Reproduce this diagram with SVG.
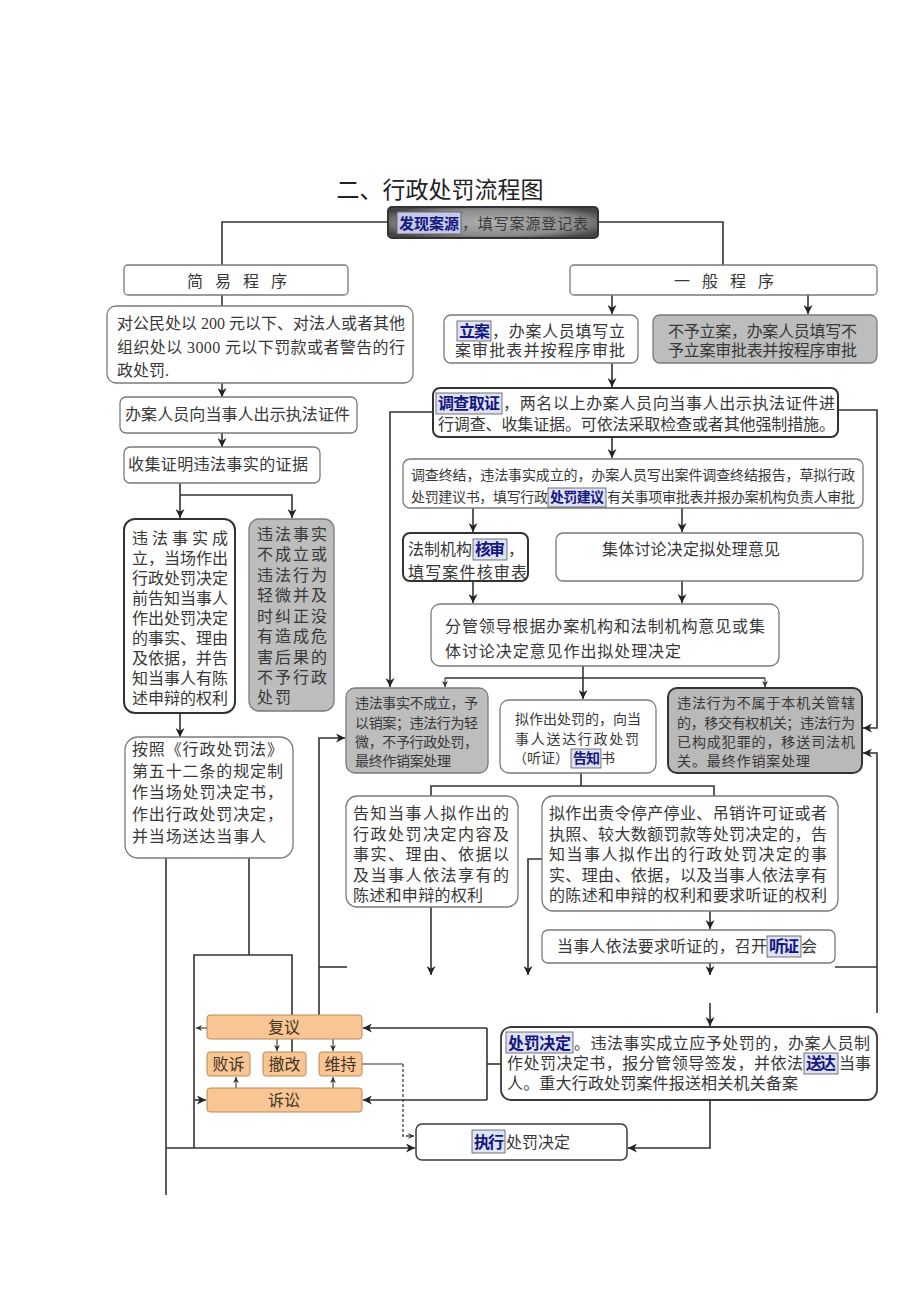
<svg xmlns="http://www.w3.org/2000/svg" width="920" height="1301" viewBox="0 0 920 1301">
<style>
text{font-family:"Liberation Serif","Noto Sans CJK SC",serif;fill:#383838;font-size:16px}
.ttl{font-family:"Noto Sans CJK SC","Noto Sans",sans-serif;font-size:23px;fill:#222;text-anchor:middle}
.sp{letter-spacing:12px}
.s14{font-size:14px}
.hl{font-weight:bold;fill:#15157e}
.hb{fill:#dde2f4;stroke:#555;stroke-width:0.8}
.box{fill:#fff;stroke:#7a7a7a;stroke-width:1.3}
.bd{fill:#fff;stroke:#333;stroke-width:2}
.gray{fill:#bdbdbd;stroke:#7a7a7a;stroke-width:1.3}
.gd{fill:#b9b9b9;stroke:#333;stroke-width:2}
.or{fill:#f8c593;stroke:#b88a5c;stroke-width:1}
.ot{fill:#3d3327;text-anchor:middle}
.ln{stroke:#333;stroke-width:1.6;fill:none}
.lt{stroke:#333;stroke-width:1.1;fill:none}
.dash{stroke:#444;stroke-width:1.3;fill:none;stroke-dasharray:3,2}
</style>
<defs>
<marker id="a" viewBox="0 0 10 10" refX="10" refY="5" markerWidth="9" markerHeight="9" markerUnits="userSpaceOnUse" orient="auto">
<path d="M0,0 L10,5 L0,10 L3,5 z" fill="#222"/>
</marker>
<marker id="s" viewBox="0 0 10 10" refX="10" refY="5" markerWidth="6" markerHeight="6" markerUnits="userSpaceOnUse" orient="auto">
<path d="M0,0 L10,5 L0,10 L3,5 z" fill="#333"/>
</marker>
<radialGradient id="gr" cx="0.5" cy="0.5" r="0.6">
<stop offset="0" stop-color="#b0b0b0"/>
<stop offset="0.7" stop-color="#8a8a8a"/>
<stop offset="1" stop-color="#454545"/>
</radialGradient>
</defs>

<text class="ttl" x="440" y="198">二、行政处罚流程图</text>

<g id="connectors">
<path class="ln" d="M388,222 H222 V265"/>
<path class="ln" d="M598,222 H723 V265"/>
<path class="ln" d="M222,295 V306"/>
<path class="ln" d="M612,295 V314" marker-end="url(#a)"/>
<path class="ln" d="M808,295 V314" marker-end="url(#a)"/>
<path class="ln" d="M222,383 V397" marker-end="url(#a)"/>
<path class="ln" d="M222,433 V447" marker-end="url(#a)"/>
<path class="ln" d="M180,483 V518" marker-end="url(#a)"/>
<path class="ln" d="M180,495 H292 V518" marker-end="url(#a)"/>
<path class="ln" d="M180,713 V737" marker-end="url(#a)"/>
<path class="ln" d="M612,363 V387" marker-end="url(#a)"/>
<path class="ln" d="M433,412 H390 V687" marker-end="url(#a)"/>
<path class="ln" d="M838,410 H877 V728 H863" marker-end="url(#a)"/>
<path class="ln" d="M612,437 V458" marker-end="url(#a)"/>
<path class="ln" d="M473,508 V532" marker-end="url(#a)"/>
<path class="ln" d="M682,508 V532" marker-end="url(#a)"/>
<path class="ln" d="M473,581 V603" marker-end="url(#a)"/>
<path class="ln" d="M682,581 V603" marker-end="url(#a)"/>
<path class="ln" d="M583,666 V699" marker-end="url(#a)"/>
<path class="ln" d="M445,678 H765"/>
<path class="lt" d="M445,678 V687" marker-end="url(#s)"/>
<path class="lt" d="M765,678 V687" marker-end="url(#s)"/>
<path class="ln" d="M319,1015 V738 H345" marker-end="url(#a)"/>
<path class="ln" d="M319,967 H347"/>
<path class="ln" d="M581,773 V786"/>
<path class="ln" d="M431,796 V786 H714 V796"/>
<path class="ln" d="M710,911 V929" marker-end="url(#a)"/>
<path class="ln" d="M542,859 H528 V975" marker-end="url(#a)"/>
<path class="ln" d="M431,907 V975" marker-end="url(#a)"/>
<path class="ln" d="M710,963 V975" marker-end="url(#a)"/>
<path class="ln" d="M710,1003 V1026" marker-end="url(#a)"/>
<path class="ln" d="M835,967 H877"/>
<path class="ln" d="M877,1013 V753 H863" marker-end="url(#a)"/>
<path class="ln" d="M501,1064 H487"/>
<path class="ln" d="M487,1028 V1100"/>
<path class="ln" d="M487,1028 H363" marker-end="url(#a)"/>
<path class="ln" d="M487,1100 H363" marker-end="url(#a)"/>
<path class="ln" d="M710,1100 V1148 H628" marker-end="url(#a)"/>
<path class="ln" d="M249,858 V955"/>
<path class="ln" d="M194,1148 V955 H292 V1066" marker-end="url(#a)"/>
<path class="ln" d="M166,858 V1195"/>
<path class="ln" d="M166,1148 H415" marker-end="url(#a)"/>
<path class="lt" d="M207,1028 H196" marker-end="url(#s)"/>
<path class="ln" d="M194,1100 H206" marker-end="url(#a)"/>
<path class="lt" d="M277,1039 V1051" marker-end="url(#s)"/>
<path class="lt" d="M333,1039 V1051" marker-end="url(#s)"/>
<path class="lt" d="M236,1088 V1077" marker-end="url(#s)"/>
<path class="lt" d="M333,1088 V1077" marker-end="url(#s)"/>
<path class="lt" d="M362,1064 H403"/>
<path class="dash" d="M403,1064 V1136 H414" marker-end="url(#s)"/>
</g>

<g id="n-source">
<rect x="388" y="207" width="210" height="31" rx="4" fill="url(#gr)" stroke="#333" stroke-width="2"/>
<rect class="hb" x="397" y="212" width="64" height="22" style="fill:#c3c9e6"/>
<text class="hl" x="399" y="229" style="font-size:15px" textLength="60">发现案源</text>
<text x="462" y="229" style="font-size:15px;fill:#3a3a3a" textLength="126">，填写案源登记表</text>
</g>

<g id="n-simple">
<rect class="box" x="124" y="265" width="224" height="30" rx="4"/>
<text class="sp" x="187" y="287">简易程序</text>
</g>
<g id="n-general">
<rect class="box" x="570" y="265" width="307" height="30" rx="4"/>
<text class="sp" x="674" y="287">一般程序</text>
</g>

<g id="n-s1">
<rect class="box" x="107" y="306" width="306" height="77" rx="9"/>
<text x="117" y="329" textLength="288">对公民处以 200 元以下、对法人或者其他</text>
<text x="117" y="353" textLength="288">组织处以 3000 元以下罚款或者警告的行</text>
<text x="117" y="376">政处罚.</text>
</g>
<g id="n-s2">
<rect class="box" x="120" y="397" width="237" height="36" rx="6"/>
<text x="125" y="420" textLength="225">办案人员向当事人出示执法证件</text>
</g>
<g id="n-s3">
<rect class="box" x="124" y="447" width="196" height="36" rx="6"/>
<text x="128" y="470" textLength="180">收集证明违法事实的证据</text>
</g>
<g id="n-s4">
<rect class="bd" x="124" y="519" width="111" height="194" rx="11"/>
<text x="132" y="544" textLength="96">违法事实成</text>
<text x="132" y="564" textLength="96">立，当场作出</text>
<text x="132" y="584" textLength="96">行政处罚决定</text>
<text x="132" y="604" textLength="96">前告知当事人</text>
<text x="132" y="624" textLength="96">作出处罚决定</text>
<text x="132" y="644" textLength="96">的事实、理由</text>
<text x="132" y="664" textLength="96">及依据，并告</text>
<text x="132" y="684" textLength="96">知当事人有陈</text>
<text x="132" y="704" textLength="96">述申辩的权利</text>
</g>
<g id="n-s5">
<rect class="gray" x="249" y="519" width="85" height="192" rx="10"/>
<text x="257" y="540" textLength="70">违法事实</text>
<text x="257" y="560" textLength="70">不成立或</text>
<text x="257" y="581" textLength="70">违法行为</text>
<text x="257" y="601" textLength="70">轻微并及</text>
<text x="257" y="622" textLength="70">时纠正没</text>
<text x="257" y="642" textLength="70">有造成危</text>
<text x="257" y="663" textLength="70">害后果的</text>
<text x="257" y="683" textLength="70">不予行政</text>
<text x="257" y="703" textLength="34">处罚</text>
</g>
<g id="n-s6">
<rect class="box" x="125" y="737" width="168" height="121" rx="13"/>
<text x="132" y="755" textLength="151">按照《行政处罚法》</text>
<text x="132" y="777" textLength="151">第五十二条的规定制</text>
<text x="132" y="798" textLength="151">作当场处罚决定书，</text>
<text x="132" y="820" textLength="151">作出行政处罚决定，</text>
<text x="132" y="842" textLength="134">并当场送达当事人</text>
</g>

<g id="n-g1">
<rect class="box" x="444" y="315" width="194" height="48" rx="7"/>
<rect class="hb" x="457" y="321" width="34" height="20"/>
<text class="hl" x="459" y="337" textLength="31">立案</text>
<text x="492" y="337" textLength="133">，办案人员填写立</text>
<text x="455" y="356" textLength="170">案审批表并按程序审批</text>
</g>
<g id="n-g2">
<rect class="gray" x="653" y="315" width="224" height="48" rx="7"/>
<text x="668" y="337" textLength="189">不予立案，办案人员填写不</text>
<text x="668" y="356" textLength="189">予立案审批表并按程序审批</text>
</g>
<g id="n-g3">
<rect class="bd" x="433" y="388" width="405" height="49" rx="7"/>
<rect class="hb" x="436" y="393" width="66" height="21"/>
<text class="hl" x="438" y="409" textLength="62">调查取证</text>
<text x="503" y="409" textLength="332">，两名以上办案人员向当事人出示执法证件进</text>
<text x="438" y="430" textLength="397">行调查、收集证据。可依法采取检查或者其他强制措施。</text>
</g>
<g id="n-g4">
<rect class="box" x="403" y="459" width="460" height="49" rx="7"/>
<text class="s14" x="411" y="480" textLength="444">调查终结，违法事实成立的，办案人员写出案件调查终结报告，草拟行政</text>
<text class="s14" x="411" y="502" textLength="137">处罚建议书，填写行政</text>
<rect class="hb" x="548" y="488" width="58" height="19"/>
<text class="s14 hl" x="550" y="502" textLength="54">处罚建议</text>
<text class="s14" x="607" y="502" textLength="248">有关事项审批表并报办案机构负责人审批</text>
</g>
<g id="n-g5">
<rect class="bd" x="403" y="533" width="125" height="48" rx="7"/>
<text x="408" y="555" textLength="64">法制机构</text>
<rect class="hb" x="473" y="539" width="34" height="21"/>
<text class="hl" x="475" y="555" textLength="30">核审</text>
<text x="508" y="555">，</text>
<text x="408" y="578" textLength="119">填写案件核审表</text>
</g>
<g id="n-g6">
<rect class="box" x="556" y="533" width="307" height="48" rx="7"/>
<text x="602" y="555" textLength="178">集体讨论决定拟处理意见</text>
</g>
<g id="n-g7">
<rect class="box" x="431" y="604" width="348" height="62" rx="9"/>
<text x="445" y="632" textLength="320">分管领导根据办案机构和法制机构意见或集</text>
<text x="445" y="657" textLength="236">体讨论决定意见作出拟处理决定</text>
</g>
<g id="n-g8">
<rect class="gray" x="346" y="688" width="142" height="85" rx="9"/>
<text class="s14" x="355" y="708" textLength="123">违法事实不成立，予</text>
<text class="s14" x="355" y="728" textLength="123">以销案；违法行为轻</text>
<text class="s14" x="355" y="747" textLength="123">微，不予行政处罚，</text>
<text class="s14" x="355" y="766" textLength="96">最终作销案处理</text>
</g>
<g id="n-g9">
<rect class="box" x="500" y="700" width="156" height="73" rx="9"/>
<text class="s14" x="515" y="724" textLength="126">拟作出处罚的，向当</text>
<text class="s14" x="515" y="744" textLength="124">事人送达行政处罚</text>
<text class="s14" x="513" y="763" textLength="56">（听证）</text>
<rect class="hb" x="571" y="749" width="30" height="19"/>
<text class="s14 hl" x="573" y="763" textLength="27">告知</text>
<text class="s14" x="601" y="763">书</text>
</g>
<g id="n-g10">
<rect class="gd" x="668" y="688" width="194" height="85" rx="9"/>
<text class="s14" x="677" y="708" textLength="178">违法行为不属于本机关管辖</text>
<text class="s14" x="677" y="728" textLength="178">的，移交有权机关；违法行为</text>
<text class="s14" x="677" y="747" textLength="178">已构成犯罪的，移送司法机</text>
<text class="s14" x="677" y="766" textLength="133">关。最终作销案处理</text>
</g>
<g id="n-g11">
<rect class="box" x="346" y="796" width="172" height="111" rx="11"/>
<text x="353" y="819" textLength="156">告知当事人拟作出的</text>
<text x="353" y="840" textLength="156">行政处罚决定内容及</text>
<text x="353" y="860" textLength="156">事实、理由、依据以</text>
<text x="353" y="881" textLength="156">及当事人依法享有的</text>
<text x="353" y="901" textLength="130">陈述和申辩的权利</text>
</g>
<g id="n-g12">
<rect class="box" x="542" y="796" width="296" height="115" rx="11"/>
<text x="549" y="819" textLength="278">拟作出责令停产停业、吊销许可证或者</text>
<text x="549" y="840" textLength="278">执照、较大数额罚款等处罚决定的，告</text>
<text x="549" y="860" textLength="278">知当事人拟作出的行政处罚决定的事</text>
<text x="549" y="881" textLength="278">实、理由、依据，以及当事人依法享有</text>
<text x="549" y="901" textLength="278">的陈述和申辩的权利和要求听证的权利</text>
</g>
<g id="n-g13">
<rect class="box" x="542" y="930" width="293" height="33" rx="6"/>
<text x="557" y="952" textLength="210">当事人依法要求听证的，召开</text>
<rect class="hb" x="767" y="936" width="34" height="21"/>
<text class="hl" x="769" y="952" textLength="30">听证</text>
<text x="801" y="952">会</text>
</g>
<g id="n-g14">
<rect x="501" y="1027" width="376" height="73" rx="10" fill="#fff" stroke="#3a3a3a" stroke-width="1.8"/>
<rect class="hb" x="506" y="1032" width="67" height="21"/>
<text class="hl" x="508" y="1049" textLength="63">处罚决定</text>
<text x="574" y="1049" textLength="296">。违法事实成立应予处罚的，办案人员制</text>
<text x="507" y="1069" textLength="296">作处罚决定书，报分管领导签发，并依法</text>
<rect class="hb" x="804" y="1053" width="34" height="21"/>
<text class="hl" x="806" y="1069" textLength="30">送达</text>
<text x="839" y="1069" textLength="32">当事</text>
<text x="507" y="1089" textLength="291">人。重大行政处罚案件报送相关机关备案</text>
</g>
<g id="n-exec">
<rect x="416" y="1124" width="211" height="36" rx="6" fill="#fff" stroke="#3a3a3a" stroke-width="1.5"/>
<rect class="hb" x="472" y="1130" width="33" height="23"/>
<text class="hl" x="474" y="1148" textLength="30">执行</text>
<text x="506" y="1148" textLength="64">处罚决定</text>
</g>

<g id="n-review">
<rect class="or" x="207" y="1015" width="155" height="24" rx="3"/>
<text class="ot" x="284" y="1033">复议</text>
</g>
<g id="n-lose">
<rect class="or" x="207" y="1052" width="43" height="24" rx="3"/>
<text class="ot" x="228.5" y="1070">败诉</text>
</g>
<g id="n-revoke">
<rect class="or" x="263" y="1052" width="43" height="24" rx="3"/>
<text class="ot" x="284.5" y="1070">撤改</text>
</g>
<g id="n-keep">
<rect class="or" x="319" y="1052" width="43" height="24" rx="3"/>
<text class="ot" x="340.5" y="1070">维持</text>
</g>
<g id="n-suit">
<rect class="or" x="207" y="1088" width="155" height="24" rx="3"/>
<text class="ot" x="284" y="1106">诉讼</text>
</g>
</svg>
